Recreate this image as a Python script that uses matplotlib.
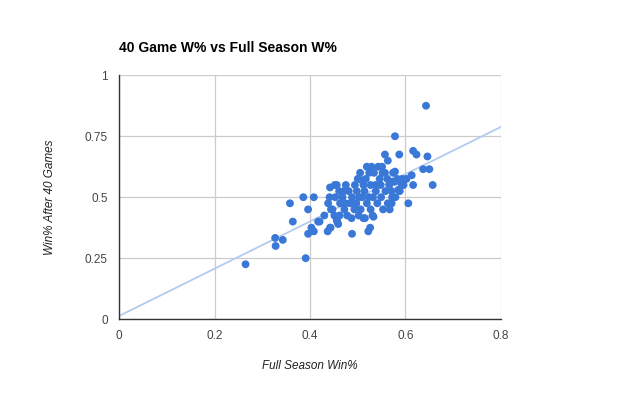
import matplotlib.pyplot as plt

plt.rcParams['font.family'] = ['Liberation Sans', 'DejaVu Sans']

# full season win% (x) vs win% after 40 games (y)
full_season = [
    0.265, 0.391, 0.327, 0.328, 0.343, 0.358, 0.364, 0.386, 0.408, 0.396,
    0.403, 0.396, 0.408, 0.417, 0.430, 0.437, 0.442, 0.457, 0.488, 0.442,
    0.456, 0.475, 0.500, 0.505, 0.438, 0.522, 0.420, 0.443, 0.459, 0.578,
    0.557, 0.563, 0.587, 0.616, 0.623, 0.646, 0.637, 0.650, 0.613, 0.616,
    0.657, 0.606, 0.596, 0.574, 0.519, 0.529, 0.543, 0.574, 0.571, 0.588,
    0.571, 0.567, 0.533, 0.512, 0.526, 0.578, 0.452, 0.508, 0.515, 0.531,
    0.487, 0.456, 0.578, 0.585, 0.643,
    0.447, 0.463, 0.472, 0.484, 0.493, 0.497, 0.503, 0.514, 0.523, 0.527,
    0.546, 0.552, 0.562, 0.517, 0.534, 0.538, 0.549, 0.558, 0.566, 0.583,
    0.553, 0.541, 0.527, 0.519, 0.506, 0.488, 0.481, 0.468, 0.461, 0.453,
    0.444, 0.462, 0.478, 0.502, 0.512, 0.524, 0.551, 0.557, 0.592, 0.593,
    0.602, 0.579, 0.563, 0.537, 0.498, 0.471, 0.494, 0.509, 0.532, 0.548,
    0.572, 0.451, 0.474, 0.441,
]
after_40 = [
    0.225, 0.250, 0.333, 0.300, 0.325, 0.475, 0.400, 0.500, 0.500, 0.450,
    0.375, 0.350, 0.360, 0.400, 0.425, 0.360, 0.375, 0.400, 0.350, 0.540,
    0.550, 0.550, 0.575, 0.600, 0.475, 0.360, 0.400, 0.375, 0.390, 0.750,
    0.675, 0.650, 0.675, 0.690, 0.675, 0.667, 0.615, 0.615, 0.590, 0.550,
    0.550, 0.475, 0.550, 0.600, 0.625, 0.625, 0.625, 0.564, 0.525, 0.525,
    0.475, 0.450, 0.420, 0.414, 0.375, 0.605, 0.550, 0.570, 0.414, 0.425,
    0.414, 0.407, 0.564, 0.530, 0.875,
    0.450, 0.475, 0.450, 0.475, 0.450, 0.475, 0.500, 0.525, 0.500, 0.550,
    0.575, 0.600, 0.575, 0.575, 0.600, 0.525, 0.500, 0.525, 0.550, 0.575,
    0.450, 0.475, 0.450, 0.475, 0.450, 0.500, 0.525, 0.500, 0.525, 0.500,
    0.450, 0.425, 0.425, 0.425, 0.550, 0.600, 0.625, 0.600, 0.550, 0.575,
    0.575, 0.500, 0.475, 0.550, 0.525, 0.525, 0.550, 0.500, 0.500, 0.550,
    0.500, 0.425, 0.475, 0.500,
]

# linear trendline as shown on the chart
trend_x = [0.0, 0.8]
trend_intercept = 0.013
trend_slope = 0.969

x_ticks = [0, 0.2, 0.4, 0.6, 0.8]
x_tick_labels = ["0", "0.2", "0.4", "0.6", "0.8"]
y_ticks = [0, 0.25, 0.5, 0.75, 1]
y_tick_labels = ["0", "0.25", "0.5", "0.75", "1"]

fig = plt.figure(figsize=(6.2, 3.94), dpi=100)
ax = fig.add_axes([0.192, 0.19, 0.616, 0.619])

trend_y = [trend_intercept + trend_slope * v for v in trend_x]
ax.plot(trend_x, trend_y, color="#b3cbef", lw=1.3, zorder=2)
ax.scatter(full_season, after_40, s=32, color="#3a78d8", edgecolors="none", zorder=3)

ax.set_xlim(0, 0.8)
ax.set_ylim(0, 1)
ax.set_xticks(x_ticks)
ax.set_xticklabels(x_tick_labels)
ax.set_yticks(y_ticks)
ax.set_yticklabels(y_tick_labels)
ax.grid(True, color="#cccccc", lw=0.9, zorder=0)
ax.set_axisbelow(True)
ax.tick_params(length=0, labelsize=8.5, labelcolor="#444444", pad=8)

for s in ["top", "right"]:
    ax.spines[s].set_visible(False)
for s in ["left", "bottom"]:
    ax.spines[s].set_color("#333333")
    ax.spines[s].set_linewidth(1.0)

ax.set_xlabel("Full Season Win%", fontstyle="italic", fontsize=8.5, color="#222222", labelpad=13)
ax.set_ylabel("Win% After 40 Games", fontstyle="italic", fontsize=8.5, color="#222222", labelpad=21)

fig.text(119 / 620, 1 - 48 / 394, "40 Game W% vs Full Season W%", fontsize=10,
         fontweight="bold", color="#000000", ha="left", va="center")

fig.savefig("out.png", dpi=100)
